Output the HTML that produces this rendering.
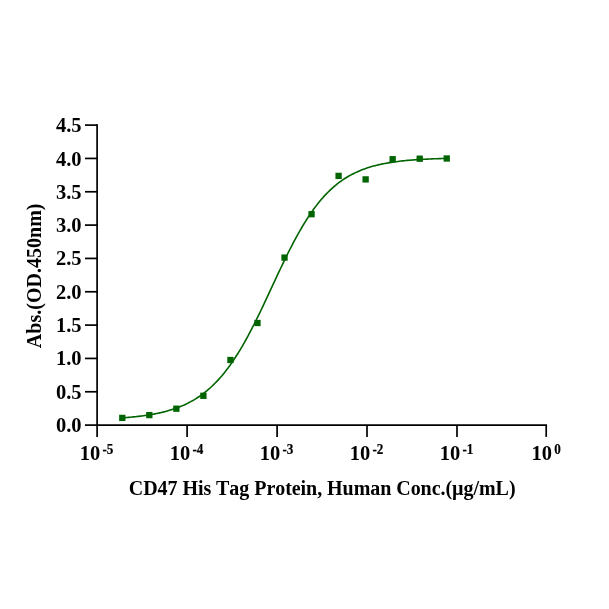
<!DOCTYPE html>
<html><head><meta charset="utf-8"><style>
html,body{margin:0;padding:0;background:#fff;}
svg{display:block;will-change:transform;}
text{font-family:"Liberation Serif",serif;font-weight:bold;fill:#000;font-kerning:none;}
</style></head><body>
<svg width="609" height="609" viewBox="0 0 609 609">
<rect width="609" height="609" fill="#fff"/>
<g stroke="#000" stroke-width="1.7" fill="none" stroke-linecap="butt">
<line x1="97.1" y1="124.25" x2="97.1" y2="425.1"/>
<line x1="97.1" y1="425.1" x2="547.0500000000001" y2="425.1"/>
<line x1="85" y1="425.10" x2="97.1" y2="425.10"/><line x1="85" y1="391.77" x2="97.1" y2="391.77"/><line x1="85" y1="358.43" x2="97.1" y2="358.43"/><line x1="85" y1="325.10" x2="97.1" y2="325.10"/><line x1="85" y1="291.77" x2="97.1" y2="291.77"/><line x1="85" y1="258.43" x2="97.1" y2="258.43"/><line x1="85" y1="225.10" x2="97.1" y2="225.10"/><line x1="85" y1="191.77" x2="97.1" y2="191.77"/><line x1="85" y1="158.43" x2="97.1" y2="158.43"/><line x1="85" y1="125.10" x2="97.1" y2="125.10"/><line x1="97.10" y1="425.1" x2="97.10" y2="436.9"/><line x1="187.10" y1="425.1" x2="187.10" y2="436.9"/><line x1="277.10" y1="425.1" x2="277.10" y2="436.9"/><line x1="367.00" y1="425.1" x2="367.00" y2="436.9"/><line x1="457.00" y1="425.1" x2="457.00" y2="436.9"/><line x1="546.20" y1="425.1" x2="546.20" y2="436.9"/>
</g>
<g font-size="20.5" text-anchor="end"><text x="81.6" y="431.80">0.0</text><text x="81.6" y="398.53">0.5</text><text x="81.6" y="365.26">1.0</text><text x="81.6" y="331.99">1.5</text><text x="81.6" y="298.72">2.0</text><text x="81.6" y="265.45">2.5</text><text x="81.6" y="232.18">3.0</text><text x="81.6" y="198.90">3.5</text><text x="81.6" y="165.63">4.0</text><text x="81.6" y="132.36">4.5</text></g>
<g font-size="20"><text x="79.78" y="459.6" font-size="20.5">10</text><text transform="translate(102.48,453.6) scale(0.97,1.1)" font-size="13.5" stroke="#000" stroke-width="0.2">-5</text><text x="169.78" y="459.6" font-size="20.5">10</text><text transform="translate(192.48,453.6) scale(0.97,1.1)" font-size="13.5" stroke="#000" stroke-width="0.2">-4</text><text x="259.78" y="459.6" font-size="20.5">10</text><text transform="translate(282.48,453.6) scale(0.97,1.1)" font-size="13.5" stroke="#000" stroke-width="0.2">-3</text><text x="349.68" y="459.6" font-size="20.5">10</text><text transform="translate(372.38,453.6) scale(0.97,1.1)" font-size="13.5" stroke="#000" stroke-width="0.2">-2</text><text x="439.68" y="459.6" font-size="20.5">10</text><text transform="translate(462.38,453.6) scale(0.97,1.1)" font-size="13.5" stroke="#000" stroke-width="0.2">-1</text><text x="531.52" y="459.6" font-size="20.5">10</text><text transform="translate(554.23,453.6) scale(0.97,1.1)" font-size="13.5" stroke="#000" stroke-width="0.2">0</text></g>
<text x="128.75" y="495.0" font-size="20" style="font-kerning:none;letter-spacing:-0.05px">CD47 His Tag Protein, Human Conc.(µg/mL)</text>
<text transform="translate(40.7,275.8) rotate(-90)" font-size="20.05" text-anchor="middle">Abs.(OD.450nm)</text>
<path d="M122.29,417.85 L123.92,417.73 L125.55,417.60 L127.18,417.47 L128.81,417.33 L130.44,417.19 L132.07,417.04 L133.70,416.87 L135.33,416.71 L136.96,416.53 L138.59,416.34 L140.22,416.15 L141.85,415.94 L143.48,415.72 L145.11,415.50 L146.75,415.26 L148.38,415.01 L150.01,414.74 L151.64,414.47 L153.27,414.18 L154.90,413.87 L156.53,413.55 L158.16,413.21 L159.79,412.86 L161.42,412.49 L163.05,412.10 L164.68,411.69 L166.31,411.26 L167.94,410.81 L169.57,410.34 L171.20,409.84 L172.83,409.32 L174.46,408.78 L176.09,408.20 L177.72,407.61 L179.35,406.98 L180.98,406.32 L182.62,405.63 L184.25,404.91 L185.88,404.15 L187.51,403.36 L189.14,402.53 L190.77,401.67 L192.40,400.76 L194.03,399.82 L195.66,398.83 L197.29,397.79 L198.92,396.71 L200.55,395.59 L202.18,394.41 L203.81,393.18 L205.44,391.90 L207.07,390.57 L208.70,389.18 L210.33,387.74 L211.96,386.23 L213.59,384.67 L215.22,383.04 L216.86,381.35 L218.49,379.60 L220.12,377.78 L221.75,375.90 L223.38,373.94 L225.01,371.92 L226.64,369.83 L228.27,367.67 L229.90,365.44 L231.53,363.13 L233.16,360.76 L234.79,358.31 L236.42,355.80 L238.05,353.21 L239.68,350.55 L241.31,347.83 L242.94,345.04 L244.57,342.18 L246.20,339.26 L247.83,336.27 L249.46,333.23 L251.09,330.12 L252.73,326.97 L254.36,323.76 L255.99,320.50 L257.62,317.20 L259.25,313.86 L260.88,310.48 L262.51,307.07 L264.14,303.63 L265.77,300.16 L267.40,296.68 L269.03,293.19 L270.66,289.68 L272.29,286.18 L273.92,282.67 L275.55,279.17 L277.18,275.68 L278.81,272.21 L280.44,268.76 L282.07,265.33 L283.70,261.93 L285.33,258.57 L286.97,255.25 L288.60,251.98 L290.23,248.75 L291.86,245.57 L293.49,242.44 L295.12,239.38 L296.75,236.37 L298.38,233.43 L300.01,230.55 L301.64,227.73 L303.27,224.99 L304.90,222.32 L306.53,219.72 L308.16,217.19 L309.79,214.73 L311.42,212.34 L313.05,210.03 L314.68,207.80 L316.31,205.63 L317.94,203.54 L319.57,201.52 L321.20,199.57 L322.84,197.69 L324.47,195.88 L326.10,194.14 L327.73,192.47 L329.36,190.86 L330.99,189.31 L332.62,187.83 L334.25,186.40 L335.88,185.04 L337.51,183.73 L339.14,182.48 L340.77,181.28 L342.40,180.14 L344.03,179.04 L345.66,178.00 L347.29,177.00 L348.92,176.04 L350.55,175.13 L352.18,174.27 L353.81,173.44 L355.44,172.65 L357.07,171.90 L358.71,171.18 L360.34,170.50 L361.97,169.85 L363.60,169.23 L365.23,168.64 L366.86,168.08 L368.49,167.55 L370.12,167.04 L371.75,166.56 L373.38,166.10 L375.01,165.67 L376.64,165.26 L378.27,164.86 L379.90,164.49 L381.53,164.14 L383.16,163.80 L384.79,163.48 L386.42,163.18 L388.05,162.89 L389.68,162.62 L391.31,162.36 L392.95,162.12 L394.58,161.89 L396.21,161.67 L397.84,161.46 L399.47,161.26 L401.10,161.07 L402.73,160.89 L404.36,160.72 L405.99,160.56 L407.62,160.41 L409.25,160.27 L410.88,160.13 L412.51,160.00 L414.14,159.88 L415.77,159.76 L417.40,159.65 L419.03,159.55 L420.66,159.45 L422.29,159.35 L423.92,159.26 L425.55,159.18 L427.18,159.10 L428.82,159.02 L430.45,158.95 L432.08,158.89 L433.71,158.82 L435.34,158.76 L436.97,158.70 L438.60,158.65 L440.23,158.60 L441.86,158.55 L443.49,158.50 L445.12,158.46 L446.75,158.42" fill="none" stroke="#006400" stroke-width="1.6"/>
<g fill="#006400"><rect x="119.14" y="414.75" width="6.3" height="6.3"/><rect x="146.18" y="411.95" width="6.3" height="6.3"/><rect x="173.22" y="405.55" width="6.3" height="6.3"/><rect x="200.25" y="392.65" width="6.3" height="6.3"/><rect x="227.29" y="356.85" width="6.3" height="6.3"/><rect x="254.33" y="319.85" width="6.3" height="6.3"/><rect x="281.37" y="254.45" width="6.3" height="6.3"/><rect x="308.41" y="211.05" width="6.3" height="6.3"/><rect x="335.45" y="172.75" width="6.3" height="6.3"/><rect x="362.48" y="176.25" width="6.3" height="6.3"/><rect x="389.52" y="156.05" width="6.3" height="6.3"/><rect x="416.56" y="155.55" width="6.3" height="6.3"/><rect x="443.60" y="155.35" width="6.3" height="6.3"/></g>
</svg>
</body></html>
